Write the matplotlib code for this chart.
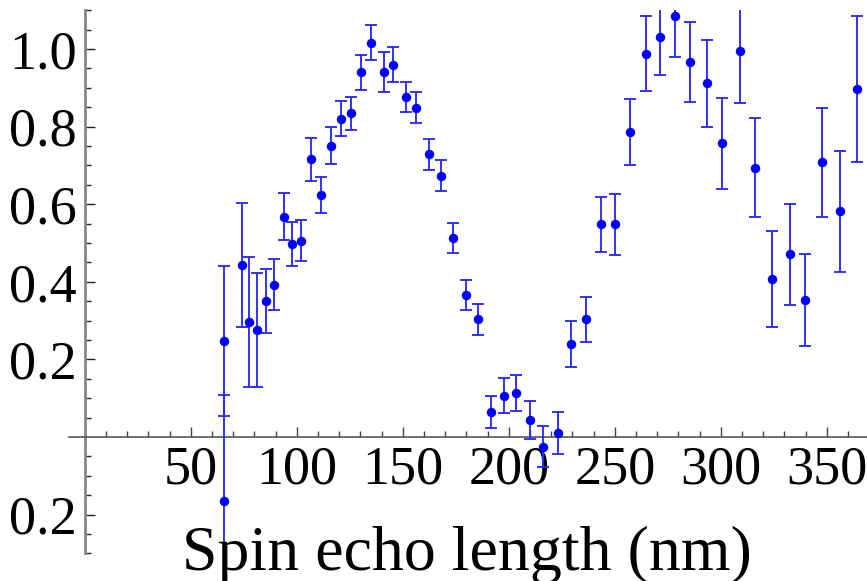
import matplotlib
matplotlib.use("Agg")
import matplotlib.pyplot as plt
from matplotlib.ticker import FixedLocator, FixedFormatter

plt.rcParams['font.family'] = ['Liberation Serif', 'DejaVu Serif']

# Data: spin echo length (nm), polarisation, error
spin_echo = [65.7, 65.7, 73.9, 77.4, 81.0, 85.5, 89.2, 93.9, 97.5, 102.0,
             106.9, 111.5, 116.0, 120.8, 125.5, 130.3, 135.2, 140.9, 145.6, 151.4,
             156.3, 162.3, 167.9, 173.7, 179.7, 185.7, 191.4, 197.5, 203.3, 210.2,
             216.2, 223.3, 229.2, 236.2, 243.3, 250.3, 257.2, 264.5, 271.4, 278.4,
             285.7, 293.7, 300.8, 309.0, 316.2, 324.2, 332.5, 339.8, 348.0, 356.1,
             364.5]
polarisation = [0.247, -0.165, 0.443, 0.296, 0.275, 0.351, 0.393, 0.568, 0.498, 0.506,
                0.716, 0.624, 0.751, 0.820, 0.834, 0.940, 1.016, 0.940, 0.960, 0.876,
                0.849, 0.729, 0.673, 0.513, 0.366, 0.303, 0.064, 0.107, 0.114, 0.045,
                -0.025, 0.010, 0.240, 0.303, 0.548, 0.548, 0.785, 0.988, 1.030, 1.086,
                0.966, 0.912, 0.757, 0.996, 0.694, 0.408, 0.471, 0.353, 0.708, 0.582,
                0.897]
errors = [0.193, 0.273, 0.160, 0.168, 0.147, 0.082, 0.066, 0.060, 0.056, 0.053,
          0.055, 0.047, 0.047, 0.045, 0.043, 0.045, 0.045, 0.051, 0.045, 0.039,
          0.040, 0.040, 0.040, 0.039, 0.039, 0.040, 0.041, 0.044, 0.047, 0.049,
          0.053, 0.054, 0.060, 0.058, 0.070, 0.079, 0.085, 0.097, 0.096, 0.106,
          0.103, 0.112, 0.118, 0.135, 0.127, 0.124, 0.130, 0.119, 0.141, 0.156,
          0.187]

x_ticks = [50, 100, 150, 200, 250, 300, 350]
x_tick_labels = ['50', '100', '150', '200', '250', '300', '350']
y_ticks = [-0.2, 0.2, 0.4, 0.6, 0.8, 1.0]
y_tick_labels = ['0.2', '0.2', '0.4', '0.6', '0.8', '1.0']
x_label = 'Spin echo length (nm)'

W, H = 867, 581
fig = plt.figure(figsize=(W / 100, H / 100), dpi=100)
# axes: x from px 69 to 867, y from px 10.2 (top) to 581 (bottom)
ax = fig.add_axes([69 / W, 0.0, 798 / W, (H - 10.2) / H])
ax.set_xlim(-7.5, 369.0)
ax.set_ylim(-0.371, 1.1)
ax.patch.set_alpha(0)

ax.errorbar(spin_echo, polarisation, yerr=errors, fmt='o', color='#0000ff',
            ecolor='#2a2aff', elinewidth=1.35, capsize=4.3, capthick=1.35,
            markersize=5.8, zorder=3)

for s in ['top', 'right']:
    ax.spines[s].set_visible(False)
ax.spines['left'].set_position(('data', 0))
ax.spines['bottom'].set_position(('data', 0))
ax.spines['left'].set_bounds(-0.3, 1.1)
ax.spines['left'].set_color('#888888')
ax.spines['left'].set_linewidth(2.0)
ax.spines['bottom'].set_color('#555555')
ax.spines['bottom'].set_linewidth(1.2)

ax.xaxis.set_major_locator(FixedLocator(x_ticks))
ax.xaxis.set_major_formatter(FixedFormatter(x_tick_labels))
ax.xaxis.set_minor_locator(FixedLocator([v for v in range(10, 370, 10) if v % 50 != 0]))
ax.yaxis.set_major_locator(FixedLocator(y_ticks))
ax.yaxis.set_major_formatter(FixedFormatter(y_tick_labels))
ax.yaxis.set_minor_locator(FixedLocator([round(-0.3 + 0.05 * i, 2) for i in range(29)
                                         if round(-0.3 + 0.05 * i, 2) not in (-0.2, 0.0, 0.2, 0.4, 0.6, 0.8, 1.0)]))

ax.tick_params(axis='x', which='major', direction='in', length=7.5, width=1.0,
               color='#444444', labelsize=39, pad=6)
ax.tick_params(axis='x', which='minor', direction='in', length=4, width=1.0,
               color='#444444')
ax.tick_params(axis='y', which='major', direction='in', length=7.5, width=1.0,
               color='#222222', labelsize=39, pad=6)
ax.tick_params(axis='y', which='minor', direction='in', length=4.5, width=1.0,
               color='#222222')

fig.text(467 / W, (H - 570) / H, x_label, ha='center', va='baseline', fontsize=46)

fig.savefig('out.png', dpi=100)
